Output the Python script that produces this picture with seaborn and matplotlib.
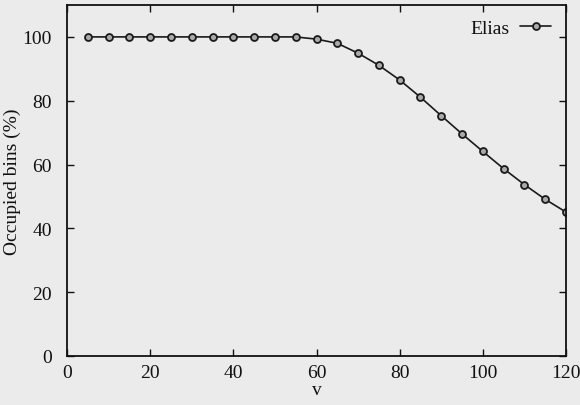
import matplotlib
matplotlib.use("Agg")
import matplotlib.pyplot as plt
import seaborn as sns
import pandas as pd

v = [5, 10, 15, 20, 25, 30, 35, 40, 45, 50, 55, 60, 65, 70, 75, 80, 85, 90, 95, 100, 105, 110, 115, 120]
occupied = [100, 100, 100, 100, 100, 100, 100, 100, 100, 100, 100, 99.3, 98.0, 94.9, 91.1, 86.5,
            81.1, 75.3, 69.6, 64.1, 58.7, 53.7, 49.1, 45.1]
series = ["Elias"] * len(v)
xticks = [0, 20, 40, 60, 80, 100, 120]
yticks = [0, 20, 40, 60, 80, 100]

sns.set_theme(style="ticks")
plt.rcParams['font.family'] = ['Liberation Serif', 'DejaVu Serif']

df = pd.DataFrame({"v": v, "occ": occupied, "series": series})

bg = "#ebebeb"
fig = plt.figure(figsize=(5.8, 4.06), dpi=100, facecolor=bg)
ax = fig.add_axes([67/580, 1 - 357/406, (566-67)/580, (357-6)/406])
ax.set_facecolor(bg)

sns.lineplot(data=df, x="v", y="occ", hue="series", palette=["#1a1a1a"], marker="o",
             markersize=5, markerfacecolor="#aaaaaa", markeredgecolor="#1a1a1a",
             markeredgewidth=1.3, linewidth=1.2, ax=ax)

ax.set_xlim(0, 120)
ax.set_ylim(0, 110)
ax.set_xticks(xticks)
ax.set_yticks(yticks)
ax.tick_params(direction="in", top=True, right=True, length=5, width=1, labelsize=14, colors="#111111")
ax.tick_params(axis="x", pad=6)
ax.tick_params(axis="y", pad=11)
for s in ax.spines.values():
    s.set_linewidth(1.3)
    s.set_color("#111111")
ax.set_xlabel("v", fontsize=14, labelpad=0, color="#111111")
ax.set_ylabel("Occupied bins (%)", fontsize=14, labelpad=1, color="#111111")

leg = ax.legend(loc="upper right", frameon=False, markerfirst=False,
                prop={"size": 14},
                handlelength=1.6, borderaxespad=0.35, handletextpad=0.55)
for t in leg.get_texts():
    t.set_color("#111111")

fig.savefig("out.png", dpi=100, facecolor=bg)
